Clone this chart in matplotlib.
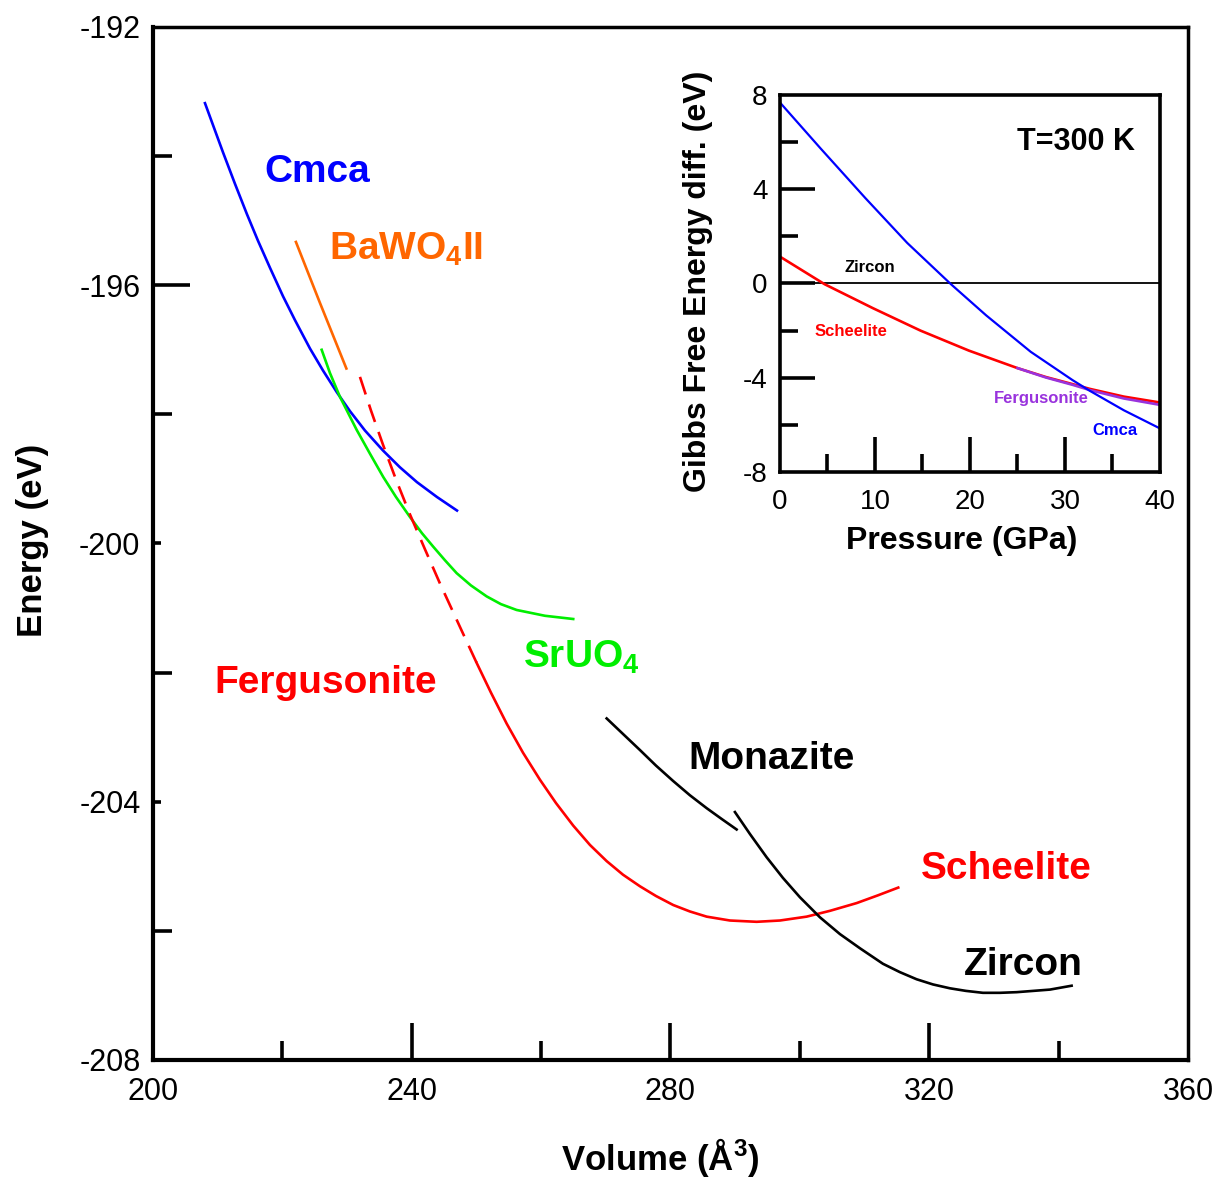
import numpy as np
import matplotlib
matplotlib.use("Agg")
import matplotlib.pyplot as plt

plt.rcParams['font.family'] = ['Liberation Sans', 'DejaVu Sans']
plt.rcParams['mathtext.fontset'] = 'custom'
plt.rcParams['mathtext.rm'] = 'Liberation Sans:bold'
plt.rcParams['mathtext.bf'] = 'Liberation Sans:bold'
plt.rcParams['mathtext.default'] = 'rm'
plt.rcParams['axes.unicode_minus'] = False

# E(V) curves, volume in A^3 and energy in eV
cmca_v = [208.04, 209.43, 210.82, 212.68, 214.53, 216.23, 218.09, 220.10, 221.95, 224.27,
          226.28, 228.44, 230.45, 232.77, 235.56, 238.18, 240.81, 243.90, 247.00]
cmca_e = [-193.18, -193.56, -193.94, -194.43, -194.90, -195.31, -195.73, -196.17, -196.54, -196.98,
          -197.32, -197.66, -197.95, -198.25, -198.56, -198.82, -199.05, -199.28, -199.49]

bawo4_v = [222.1, 225.8, 229.9]
bawo4_e = [-195.33, -196.27, -197.29]

sruo4_v = [226.08, 227.36, 228.91, 231.49, 233.55, 235.60, 237.57, 239.73, 241.58, 243.33,
           245.14, 246.95, 249.16, 251.59, 253.80, 256.22, 260.60, 264.97]
sruo4_e = [-197.00, -197.36, -197.73, -198.24, -198.61, -198.97, -199.28, -199.59, -199.84, -200.05,
           -200.26, -200.46, -200.65, -200.82, -200.94, -201.03, -201.12, -201.17]

ferg_dash_v = [232.00, 233.70, 235.56, 237.57, 239.73, 242.05, 244.37, 246.07, 247.77, 250.04]
ferg_dash_e = [-197.42, -197.94, -198.47, -199.01, -199.55, -200.09, -200.62, -200.99, -201.36, -201.85]

scheel_v = [250.04, 252.25, 254.68, 257.20, 259.83, 262.30, 264.97, 267.56, 270.14, 272.66,
            275.29, 277.76, 280.43, 283.01, 285.60, 289.20, 293.33, 296.93, 301.06, 304.66,
            308.79, 312.08, 315.22]
scheel_e = [-201.85, -202.31, -202.79, -203.24, -203.66, -204.02, -204.37, -204.67, -204.92, -205.13,
            -205.31, -205.46, -205.60, -205.70, -205.78, -205.84, -205.86, -205.84, -205.78, -205.69,
            -205.57, -205.45, -205.33]

monaz_v = [270.14, 272.66, 275.29, 277.76, 280.43, 283.01, 285.60, 287.96, 290.23]
monaz_e = [-202.71, -202.95, -203.20, -203.44, -203.68, -203.90, -204.10, -204.27, -204.43]

zircon_v = [289.97, 292.29, 294.87, 297.39, 300.02, 303.11, 306.20, 309.30, 312.85, 315.48,
            318.06, 320.58, 323.21, 325.68, 328.31, 330.94, 333.52, 338.67, 342.02]
zircon_e = [-204.16, -204.50, -204.86, -205.18, -205.48, -205.79, -206.05, -206.27, -206.51, -206.64,
            -206.75, -206.83, -206.89, -206.93, -206.96, -206.96, -206.95, -206.91, -206.85]

# Gibbs free energy differences vs pressure (GPa, eV), relative to zircon
g_cmca_p = [0.0, 4.3, 9.0, 13.4, 18.0, 21.7, 26.4, 30.8, 32.6, 36.2, 40.0]
g_cmca = [7.68, 5.72, 3.62, 1.72, -0.03, -1.35, -2.90, -4.10, -4.55, -5.38, -6.15]

g_scheel_p = [0.0, 4.7, 9.8, 14.8, 19.9, 25.0, 28.0, 30.8, 32.6, 36.2, 40.0]
g_scheel = [1.14, -0.03, -1.05, -2.00, -2.85, -3.59, -3.97, -4.27, -4.47, -4.80, -5.05]

g_ferg_p = [25.0, 28.0, 30.8, 32.6, 36.2, 40.0]
g_ferg = [-3.59, -3.99, -4.30, -4.52, -4.88, -5.15]

g_zircon_p = [0.0, 40.0]
g_zircon = [0.0, 0.0]

blue = '#0000ff'
green = '#00ee00'
orange = '#ff6600'
red = '#ff0000'
purple = '#9933dd'


def hide_edge_ticks(axis, values, edges):
    for t, val in zip(axis.get_major_ticks(), values):
        if val in edges:
            t.tick1line.set_visible(False)


fig = plt.figure(figsize=(12.16, 11.78), dpi=100)
ax = fig.add_axes([0.1258, 0.1002, 0.8511, 0.8769])

lw = 1.9
ax.plot(cmca_v, cmca_e, color=blue, lw=lw)
ax.plot(bawo4_v, bawo4_e, color=orange, lw=lw)
ax.plot(sruo4_v, sruo4_e, color=green, lw=lw)
ax.plot(ferg_dash_v, ferg_dash_e, color=red, lw=lw, linestyle=(0, (7, 4)))
ax.plot(scheel_v, scheel_e, color=red, lw=lw)
ax.plot(monaz_v, monaz_e, color='black', lw=lw)
ax.plot(zircon_v, zircon_e, color='black', lw=lw)

fs = 28
ax.text(225.35, -194.25, 'Cmca', color=blue, fontsize=fs, fontweight='bold', ha='center', va='center')
ax.text(239.1, -195.45, r'BaWO$_4$II', color=orange, fontsize=fs, fontweight='bold', ha='center', va='center')
ax.text(226.7, -202.16, 'Fergusonite', color=red, fontsize=fs, fontweight='bold', ha='center', va='center')
ax.text(266.3, -201.76, r'SrUO$_4$', color=green, fontsize=fs, fontweight='bold', ha='center', va='center')
ax.text(295.7, -203.34, 'Monazite', color='black', fontsize=fs, fontweight='bold', ha='center', va='center')
ax.text(332.0, -205.04, 'Scheelite', color=red, fontsize=fs, fontweight='bold', ha='center', va='center')
ax.text(334.5, -206.53, 'Zircon', color='black', fontsize=fs, fontweight='bold', ha='center', va='center')

xt = [200, 240, 280, 320, 360]
yt = [-192, -196, -200, -204, -208]
ax.set_xlim(200, 360)
ax.set_ylim(-208, -192)
ax.set_xticks(xt)
ax.set_xticks([220, 260, 300, 340], minor=True)
ax.set_yticks(yt)
ax.set_yticks([-194, -198, -202, -206], minor=True)
for s in ax.spines.values():
    s.set_linewidth(3)
ax.spines['top'].set_linewidth(2.5)
ax.spines['right'].set_linewidth(2.5)
ax.tick_params(which='both', direction='in', width=2.6, labelsize=22, top=False, right=False)
ax.tick_params(which='major', length=26.5, pad=9)
ax.tick_params(which='minor', length=14)
ax.tick_params(axis='x', which='major', pad=12)
for t, val in zip(ax.yaxis.get_major_ticks(), yt):
    if val in (-200, -204):
        t.tick1line.set_markersize(6)
hide_edge_ticks(ax.xaxis, xt, (200, 360))
hide_edge_ticks(ax.yaxis, yt, (-192, -208))

ax.set_xlabel(r'Volume (Å$^3$)', fontsize=25, fontweight='bold')
ax.set_ylabel('Energy (eV)', fontsize=25, fontweight='bold')
ax.xaxis.set_label_coords(0.49, -0.074)
ax.yaxis.set_label_coords(-0.10, 0.503)

# inset: Gibbs free energy at 300 K
ins = fig.add_axes([0.6414, 0.5993, 0.3125, 0.3201])
ins.plot(g_zircon_p, g_zircon, color='black', lw=1.3)
ins.plot(g_scheel_p, g_scheel, color=red, lw=1.9)
ins.plot(g_ferg_p, g_ferg, color=purple, lw=1.9)
ins.plot(g_cmca_p, g_cmca, color=blue, lw=1.6)

ins.text(9.5, 0.66, 'Zircon', color='black', fontsize=12, fontweight='bold', ha='center', va='center')
ins.text(7.5, -2.02, 'Scheelite', color=red, fontsize=12, fontweight='bold', ha='center', va='center')
ins.text(27.5, -4.90, 'Fergusonite', color=purple, fontsize=12, fontweight='bold', ha='center', va='center')
ins.text(35.3, -6.22, 'Cmca', color=blue, fontsize=12, fontweight='bold', ha='center', va='center')
ins.text(31.2, 6.0, 'T=300 K', color='black', fontsize=22, fontweight='bold', ha='center', va='center')

pt = [0, 10, 20, 30, 40]
gt = [-8, -4, 0, 4, 8]
ins.set_xlim(0, 40)
ins.set_ylim(-8, 8)
ins.set_xticks(pt)
ins.set_xticks([5, 15, 25, 35], minor=True)
ins.set_yticks(gt)
ins.set_yticks([-6, -2, 2, 6], minor=True)
for s in ins.spines.values():
    s.set_linewidth(2.6)
ins.tick_params(which='both', direction='in', width=2.6, labelsize=20, top=False, right=False)
ins.tick_params(which='major', length=25, pad=9)
ins.tick_params(which='minor', length=13)
ins.tick_params(axis='x', which='major', pad=12)
hide_edge_ticks(ins.xaxis, pt, (0, 40))
hide_edge_ticks(ins.yaxis, gt, (-8, 8))
ins.set_xlabel('Pressure (GPa)', fontsize=23, fontweight='bold')
ins.set_ylabel('Gibbs Free Energy diff. (eV)', fontsize=23, fontweight='bold')
ins.xaxis.set_label_coords(0.479, -0.143)
ins.yaxis.set_label_coords(-0.175, 0.507)

fig.savefig('out.png', dpi=100)
